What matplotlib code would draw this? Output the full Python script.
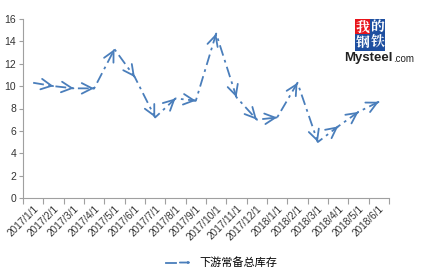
import matplotlib
matplotlib.use("Agg")
import matplotlib.pyplot as plt
from matplotlib.legend_handler import HandlerBase
from matplotlib.patches import FancyArrowPatch
from matplotlib.lines import Line2D

categories = ["2017/1/1", "2017/2/1", "2017/3/1", "2017/4/1", "2017/5/1", "2017/6/1",
              "2017/7/1", "2017/8/1", "2017/9/1", "2017/10/1", "2017/11/1", "2017/12/1",
              "2018/1/1", "2018/2/1", "2018/3/1", "2018/4/1", "2018/5/1", "2018/6/1"]
values = [10.3, 10.0, 9.8, 9.8, 13.3, 10.8, 7.2, 8.9, 8.7, 14.7, 9.0, 7.0,
          7.2, 10.3, 5.0, 6.4, 7.7, 8.6]
series_name = "下游常备总库存"
yticks = [0, 2, 4, 6, 8, 10, 12, 14, 16]

color = "#4a7ebb"
plt.rcParams['font.family'] = ['Liberation Sans', 'Noto Sans CJK SC', 'DejaVu Sans']

fig = plt.figure(figsize=(4.34, 2.75), dpi=100)
ax = fig.add_axes([23/434, 1 - 198/275, (389 - 23)/434, (198 - 19)/275])

arrow_style = "->,head_length=0.75,head_width=0.38"
x = list(range(len(values)))
ax.plot(x, values, color=color, lw=1.3, linestyle=(0, (6, 2.5, 1.5, 2.5)))
for i in range(1, len(values)):
    x0, y0 = x[i - 1], values[i - 1]
    x1, y1 = x[i], values[i]
    ax.annotate("", xy=(x1, y1), xytext=(x1 - 0.02 * (x1 - x0), y1 - 0.02 * (y1 - y0)),
                arrowprops=dict(arrowstyle=arrow_style,
                                color=color, lw=1.3, shrinkA=0, shrinkB=0))

ax.set_xlim(-0.5, len(values) - 0.5)
ax.set_ylim(0, 16)
ax.set_yticks(yticks)
ax.set_yticklabels([str(t) for t in yticks], fontsize=7.5, color="#333333")
ax.set_xticks([i - 0.5 for i in range(len(values) + 1)], minor=False)
ax.set_xticklabels([""] * (len(values) + 1))
ax.set_xticks(x, minor=True)
ax.set_xticklabels(categories, minor=True, rotation=45, ha="right", va="top",
                   fontsize=7.2, color="#333333", rotation_mode="anchor")
ax.tick_params(axis="x", which="minor", length=0, pad=4)
ax.tick_params(axis="x", which="major", length=4, color="#a0a0a0", direction="out")
ax.tick_params(axis="y", length=3, color="#a0a0a0", direction="out", pad=2)
for s in ["top", "right"]:
    ax.spines[s].set_visible(False)
for s in ["left", "bottom"]:
    ax.spines[s].set_color("#a0a0a0")
    ax.spines[s].set_linewidth(0.8)


class ArrowHandler(HandlerBase):
    def create_artists(self, legend, orig_handle, xdescent, ydescent, width, height, fontsize, trans):
        y = height / 2 - ydescent
        ln = Line2D([-xdescent, width * 0.4], [y, y], color=color, lw=1.3, transform=trans)
        ar = FancyArrowPatch((width * 0.55, y), (width, y),
                             arrowstyle=arrow_style,
                             color=color, lw=1.3, shrinkA=0, shrinkB=0, transform=trans)
        return [ln, ar]


h = Line2D([], [], color=color)
fig.legend([h], [series_name], loc="center", bbox_to_anchor=(222/434, 1 - 263/275),
           frameon=False, handler_map={Line2D: ArrowHandler()}, handlelength=2.2,
           prop={"family": ["Noto Sans CJK SC"], "size": 8})

# logo
def box(xp, yp, ch, fc):
    fig.text(xp / 434, 1 - yp / 275, ch, fontsize=10, color="white", ha="center", va="center",
             family=["Noto Serif CJK SC", "Noto Sans CJK SC"], fontweight="bold",
             bbox=dict(boxstyle="square,pad=0.02", fc=fc, ec="none"))

box(362.5, 27.5, "我", "#e8141b")
box(377.5, 27.5, "的", "#1e4fa0")
box(362.5, 42.5, "钢", "#1e4fa0")
box(377.5, 42.5, "铁", "#1e4fa0")
fig.text(344 / 434, 1 - 58 / 275, "Mysteel", fontsize=9.5, fontweight="bold", color="#222222",
         ha="left", va="center", family=["Liberation Sans Narrow", "Liberation Sans"])
fig.text(393 / 434, 1 - 58.5 / 275, ".com", fontsize=7, color="#222222",
         ha="left", va="center", family=["Liberation Sans"])

fig.savefig("out.png", dpi=100)
